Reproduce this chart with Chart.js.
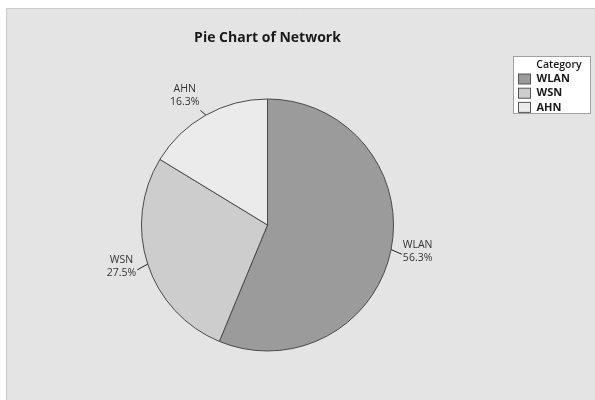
<!DOCTYPE html>
<html>
<head>
<meta charset="utf-8">
<script src="https://cdn.jsdelivr.net/npm/chart.js@4"></script>
<style>
  html, body { margin: 0; padding: 0; background: #fff; }
  #wrap { width: 595px; height: 400px; position: relative; }
</style>
</head>
<body>
<div id="wrap"><canvas id="graficoPizza"></canvas></div>
<script>
const categorias = ['WLAN', 'WSN', 'AHN'];
const percentuais = [56.3, 27.5, 16.3];
const cores = ['#9b9b9b', '#cdcdcd', '#ebebeb'];
const tituloGrafico = 'Pie Chart of Network';
const tituloLegenda = 'Category';

const FONTE = '"Open Sans", "Noto Sans", sans-serif';

// fundo cinza, titulo, legenda e rotulos com linha guia
const pluginMinitab = {
    id: 'pluginMinitab',
    beforeDraw(chart) {
        const ctx = chart.ctx;
        ctx.save();
        ctx.fillStyle = '#fff';
        ctx.fillRect(0, 0, chart.width, chart.height);
        ctx.fillStyle = '#e4e4e4';
        ctx.fillRect(7, 9, chart.width - 7, chart.height - 9);
        ctx.strokeStyle = '#c9c9c9';
        ctx.lineWidth = 1;
        ctx.beginPath();
        ctx.moveTo(6.5, chart.height);
        ctx.lineTo(6.5, 8.5);
        ctx.lineTo(chart.width, 8.5);
        ctx.stroke();
        ctx.restore();
    },
    afterDraw(chart) {
        const ctx = chart.ctx;
        const arcos = chart.getDatasetMeta(0).data;
        ctx.save();

        // titulo
        ctx.fillStyle = '#1a1a1a';
        ctx.font = 'bold 14px ' + FONTE;
        ctx.textAlign = 'center';
        ctx.textBaseline = 'middle';
        const cx0 = (chart.chartArea.left + chart.chartArea.right) / 2;
        ctx.fillText(tituloGrafico, cx0, 38);

        // rotulos das fatias
        ctx.font = '10.5px ' + FONTE;
        ctx.strokeStyle = '#222';
        ctx.lineWidth = 1;
        arcos.forEach((arco, i) => {
            const ang = (arco.startAngle + arco.endAngle) / 2;
            const r = arco.outerRadius;
            const c = Math.cos(ang), s = Math.sin(ang);
            const x1 = arco.x + c * r, y1 = arco.y + s * r;
            const x2 = arco.x + c * (r + 11), y2 = arco.y + s * (r + 9) + 3;
            ctx.beginPath();
            ctx.moveTo(x1, y1);
            ctx.lineTo(x2, y2);
            ctx.stroke();

            const centroY = y2 + Math.min(0, s) * 13 - 3;
            const tx = c < 0 ? x2 - 1 : x2 + 1;
            const txt = percentuais[i].toFixed(1) + '%';
            const w = ctx.measureText(txt).width;
            // nome centralizado sobre o percentual
            const meio = c < 0 ? tx - w / 2 : tx + w / 2;
            ctx.fillStyle = '#333';
            ctx.textAlign = 'center';
            ctx.fillText(categorias[i], meio, centroY - 6.5);
            ctx.fillText(txt, meio, centroY + 6.5);
        });

        // legenda
        const lx = 513.5, ly = 56.5, lw = 77, lh = 57;
        ctx.fillStyle = '#fff';
        ctx.fillRect(lx, ly, lw, lh);
        ctx.strokeStyle = '#a0a0a0';
        ctx.strokeRect(lx, ly, lw, lh);

        ctx.fillStyle = '#1a1a1a';
        ctx.textAlign = 'center';
        ctx.font = '600 10.5px ' + FONTE;
        ctx.fillText(tituloLegenda, 559, 65.5);

        ctx.textAlign = 'left';
        ctx.font = 'bold 11px ' + FONTE;
        categorias.forEach((cat, i) => {
            const yy = 79 + i * 14.2;
            ctx.fillStyle = cores[i];
            ctx.fillRect(518.5, yy - 5, 12, 10);
            ctx.strokeStyle = '#555';
            ctx.strokeRect(518.5, yy - 5, 12, 10);
            ctx.fillStyle = '#1a1a1a';
            ctx.fillText(cat, 536.5, yy);
        });

        ctx.restore();
    }
};

const ctx = document.getElementById('graficoPizza');
new Chart(ctx, {
    type: 'pie',
    data: {
        labels: categorias,
        datasets: [{
            data: percentuais,
            backgroundColor: cores,
            borderColor: '#4a4a4a',
            borderWidth: 1
        }]
    },
    options: {
        responsive: true,
        maintainAspectRatio: false,
        animation: false,
        layout: { padding: { left: 141, right: 201, top: 98.5, bottom: 48.5 } },
        plugins: {
            legend: { display: false },
            title: { display: false },
            tooltip: { enabled: false }
        }
    },
    plugins: [pluginMinitab]
});
</script>
</body>
</html>
